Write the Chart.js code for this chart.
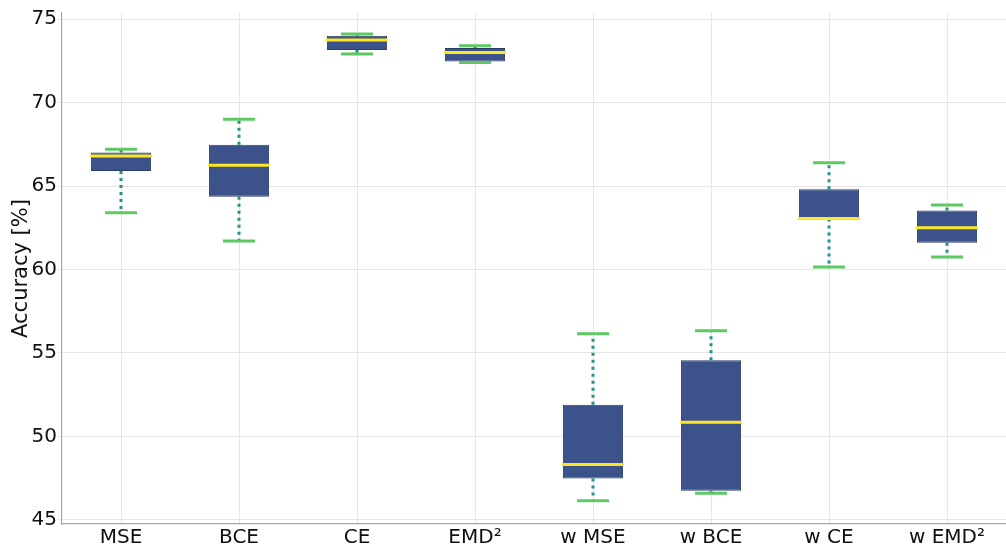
<!DOCTYPE html>
<html>
<head>
<meta charset="utf-8">
<script src="https://cdn.jsdelivr.net/npm/chart.js@4"></script>
<style>
  html, body { margin: 0; padding: 0; background: #fff; }
  #wrap { width: 1006px; height: 548px; }
</style>
</head>
<body>
<div id="wrap"><canvas id="chart"></canvas></div>
<script>
const categories = ['MSE', 'BCE', 'CE', 'EMD\u00B2', 'w MSE', 'w BCE', 'w CE', 'w EMD\u00B2'];
const whiskerLow = [63.4, 61.7, 72.9, 72.4, 46.15, 46.6, 60.15, 60.75];
const q1 = [65.9, 64.35, 73.15, 72.45, 47.48, 46.75, 63.05, 61.6];
const medians = [66.8, 66.25, 73.75, 73.0, 48.33, 50.85, 63.05, 62.5];
const q3 = [67.0, 67.47, 74.0, 73.27, 51.9, 54.57, 64.8, 63.53];
const whiskerHigh = [67.2, 69.0, 74.1, 73.4, 56.15, 56.33, 66.4, 63.87];
const yTicks = [45, 50, 55, 60, 65, 70, 75];

const boxPlugin = {
  id: 'boxExtras',
  afterDatasetsDraw(chart) {
    const ctx = chart.ctx;
    const x = chart.scales.x, y = chart.scales.y;
    const meta = chart.getDatasetMeta(0);
    ctx.save();
    categories.forEach((c, i) => {
      const cx = x.getPixelForValue(i);
      const bar = meta.data[i];
      const half = bar.width / 2;
      // dotted whiskers
      ctx.strokeStyle = '#21918c';
      ctx.lineWidth = 3;
      ctx.setLineDash([3, 4]);
      ctx.beginPath();
      ctx.moveTo(cx, y.getPixelForValue(q3[i]));
      ctx.lineTo(cx, y.getPixelForValue(whiskerHigh[i]));
      ctx.moveTo(cx, y.getPixelForValue(q1[i]));
      ctx.lineTo(cx, y.getPixelForValue(whiskerLow[i]));
      ctx.stroke();
      ctx.setLineDash([]);
      // caps
      ctx.strokeStyle = '#5ec962';
      ctx.lineWidth = 3;
      ctx.beginPath();
      [whiskerLow[i], whiskerHigh[i]].forEach(v => {
        const py = y.getPixelForValue(v);
        ctx.moveTo(cx - 16, py);
        ctx.lineTo(cx + 16, py);
      });
      ctx.stroke();
      // median
      ctx.strokeStyle = '#fde725';
      ctx.lineWidth = 3;
      ctx.beginPath();
      const my = y.getPixelForValue(medians[i]);
      ctx.moveTo(cx - half - 1, my);
      ctx.lineTo(cx + half + 1, my);
      ctx.stroke();
    });
    ctx.restore();
  }
};

new Chart(document.getElementById('chart'), {
  type: 'bar',
  data: {
    labels: categories,
    datasets: [{
      data: categories.map((c, i) => [q1[i], q3[i]]),
      backgroundColor: '#3b528b',
      borderColor: '#2c3e66',
      borderWidth: 1,
      borderSkipped: false,
      barPercentage: 0.51,
      categoryPercentage: 1.0,
    }]
  },
  options: {
    responsive: true,
    maintainAspectRatio: false,
    animation: false,
    layout: { padding: { top: 0, right: 0, left: 0, bottom: 0 } },
    plugins: {
      legend: { display: false },
      tooltip: { enabled: false },
    },
    scales: {
      x: {
        offset: true,
        grid: { offset: false, color: '#e6e6e6', drawTicks: false },
        border: { color: '#a8a8a8', width: 1.2 },
        ticks: {
          color: '#111',
          font: { family: 'DejaVu Sans', size: 20 },
          padding: 2,
          maxRotation: 0,
        },
        afterFit: s => { s.height = 24; },
      },
      y: {
        min: 44.76,
        max: 75.36,
        afterBuildTicks: s => { s.ticks = yTicks.map(v => ({ value: v })); },
        grid: { color: '#e6e6e6', tickLength: 4 },
        border: { color: '#a8a8a8', width: 1.2 },
        ticks: {
          color: '#111',
          font: { family: 'DejaVu Sans', size: 20 },
          padding: 1,
        },
        title: {
          display: true,
          text: 'Accuracy [%]',
          color: '#111',
          font: { family: 'DejaVu Sans', size: 21 },
          padding: { top: 9, bottom: 0 },
        },
        afterFit: s => { s.width = 62; },
      }
    }
  },
  plugins: [boxPlugin]
});
</script>
</body>
</html>
